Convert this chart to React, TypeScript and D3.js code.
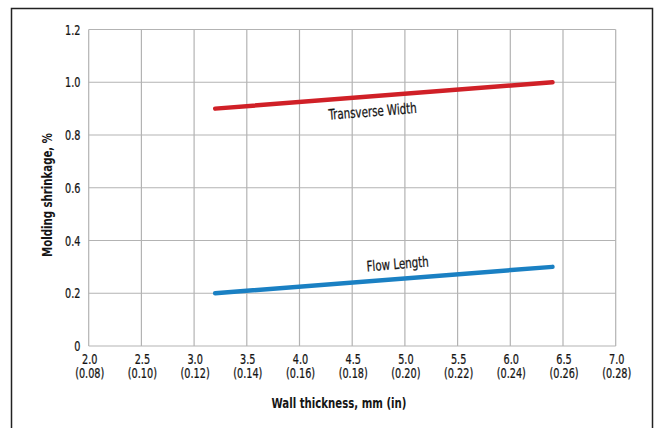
import React from "react";
import * as d3 from "d3";

const xTicks = [2.0, 2.5, 3.0, 3.5, 4.0, 4.5, 5.0, 5.5, 6.0, 6.5, 7.0];
const xTickInches = ["(0.08)", "(0.10)", "(0.12)", "(0.14)", "(0.16)", "(0.18)", "(0.20)", "(0.22)", "(0.24)", "(0.26)", "(0.28)"];
const yTicks = [0, 0.2, 0.4, 0.6, 0.8, 1.0, 1.2];
const yTickLabels = ["0", "0.2", "0.4", "0.6", "0.8", "1.0", "1.2"];

const transverseX = [3.2, 6.4];
const transverseY = [0.9, 1.0];
const flowX = [3.2, 6.4];
const flowY = [0.2, 0.3];

const FONT = "'DejaVu Sans Condensed', 'DejaVu Sans', sans-serif";

function T(props: {
  x: number; y: number; rot?: number; sx?: number; anchor?: string; size?: number; bold?: boolean; children: React.ReactNode;
}) {
  const { x, y, rot = 0, sx = 0.77, anchor = "middle", size = 14, bold = false, children } = props;
  return (
    <text
      transform={`translate(${x},${y}) rotate(${rot}) scale(${sx},1)`}
      textAnchor={anchor}
      fontFamily={FONT}
      fontSize={size}
      fontWeight={bold ? "bold" : "normal"}
      fill="#151515"
      stroke={bold ? "none" : "#151515"}
      strokeWidth={bold ? 0 : 0.25}
    >
      {children}
    </text>
  );
}

export default function App() {
  const W = 659, H = 428;
  const left = 88.7, right = 615.7, top = 29.5, bottom = 346;
  const x = d3.scaleLinear().domain([2, 7]).range([left, right]);
  const y = d3.scaleLinear().domain([0, 1.2]).range([bottom, top]);
  const line = d3.line<[number, number]>().x(d => x(d[0])).y(d => y(d[1]));
  const tPts: [number, number][] = transverseX.map((v, i) => [v, transverseY[i]]);
  const fPts: [number, number][] = flowX.map((v, i) => [v, flowY[i]]);
  const angle = (pts: [number, number][]) =>
    (Math.atan2(y(pts[1][1]) - y(pts[0][1]), x(pts[1][0]) - x(pts[0][0])) * 180) / Math.PI;
  const tAng = angle(tPts);
  const fAng = angle(fPts);
  const tLx = 373, tLy = y(0.9 + 0.1 * ((x.invert(373) - 3.2) / 3.2)) + 20;
  const fLx = 398, fLy = y(0.2 + 0.1 * ((x.invert(398) - 3.2) / 3.2)) - 10;

  return (
    <svg width={W} height={H} style={{ position: "absolute", left: 0, top: 0 }}>
      <rect x={0} y={0} width={W} height={H} fill="#fff" />
      <rect x={11.5} y={8.5} width={641} height={430} fill="none" stroke="#222" strokeWidth={1.5} />
      {xTicks.map((t) => (
        <line key={"gx" + t} x1={x(t)} x2={x(t)} y1={top} y2={bottom} stroke="#b3b3b3" strokeWidth={1.2} />
      ))}
      {yTicks.map((t) => (
        <line key={"gy" + t} x1={left} x2={right} y1={y(t)} y2={y(t)} stroke="#b3b3b3" strokeWidth={1.2} />
      ))}
      {yTicks.map((t, i) => (
        <T key={"yl" + t} x={80.5} y={y(t) + 5}>
          <tspan textAnchor="end">{yTickLabels[i]}</tspan>
        </T>
      ))}
      {xTicks.map((t, i) => (
        <g key={"xl" + t}>
          <T x={x(t) + 1} y={363.5}>{t.toFixed(1)}</T>
          <T x={x(t) + 1} y={377.5}>{xTickInches[i]}</T>
        </g>
      ))}
      <T x={339} y={408} size={14.5} bold sx={0.78}>Wall thickness, mm (in)</T>
      <T x={52} y={195} rot={-90} size={14.5} bold sx={0.78}>Molding shrinkage, %</T>
      <path d={line(tPts) || ""} fill="none" stroke="#d02027" strokeWidth={4.5} strokeLinecap="round" />
      <path d={line(fPts) || ""} fill="none" stroke="#1a80c3" strokeWidth={4.5} strokeLinecap="round" />
      <T x={tLx} y={tLy} rot={tAng} sx={0.79} size={14.5}>Transverse Width</T>
      <T x={fLx} y={fLy} rot={fAng} sx={0.79} size={14.5}>Flow Length</T>
    </svg>
  );
}
